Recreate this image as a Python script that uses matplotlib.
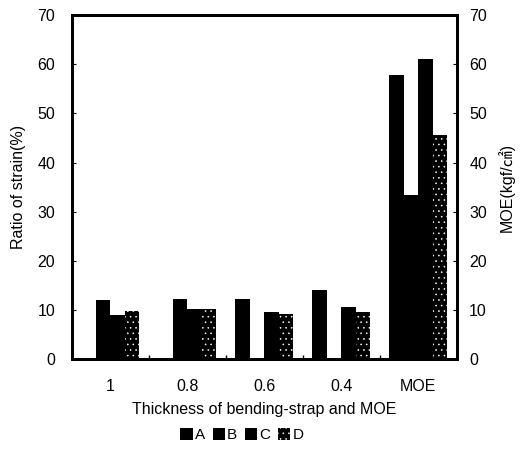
import numpy as np
import matplotlib
matplotlib.use("Agg")
import matplotlib.pyplot as plt

plt.rcParams['font.family'] = ['Liberation Sans', 'Noto Sans CJK JP', 'DejaVu Sans']
plt.rcParams['hatch.color'] = 'white'
plt.rcParams['hatch.linewidth'] = 0.4

# Data
categories = ["1", "0.8", "0.6", "0.4", "MOE"]
series = ["A", "B", "C", "D"]
strain = {
    "A": [0, 0, 12.2, 14.1],
    "B": [12.0, 12.2, 0, 0],
    "C": [9.0, 10.2, 9.7, 10.6],
    "D": [9.8, 10.2, 9.2, 9.5],
}
moe = {"A": 57.8, "B": 33.3, "C": 61.0, "D": 45.7}
yticks = [0, 10, 20, 30, 40, 50, 60, 70]

fig = plt.figure(figsize=(5.25, 4.57), dpi=100)
ax = fig.add_axes([0.137, 0.214, 0.733, 0.753])
ax2 = ax.twinx()

x = np.arange(len(categories))
w = 0.188
for i, s in enumerate(series):
    off = (i - 1.5) * w
    kw = dict(color='black', linewidth=0)
    if s == "D":
        kw['hatch'] = '...'
    ax.bar(x[:4] + off, strain[s], w, label=s, **kw)
    ax2.bar(x[4] + off, moe[s], w, **kw)

for a in (ax, ax2):
    a.set_ylim(0, 70)
    a.set_yticks(yticks)
    a.set_xlim(-0.5, len(categories) - 0.5)

ax.set_xticks(x)
ax.set_xticklabels(categories)
ax.set_xticks(np.arange(len(categories) + 1) - 0.5, minor=True)
ax.tick_params(axis='x', which='major', length=0, pad=14, labelsize=11.5)
ax.tick_params(axis='x', which='minor', direction='in', length=3, width=1)
ax.tick_params(axis='y', direction='in', length=3, pad=12, labelsize=11.5)
ax2.tick_params(axis='y', direction='in', length=3, pad=9, labelsize=11.5)

for a in (ax, ax2):
    for sp in a.spines.values():
        sp.set_linewidth(2)

ax.set_ylabel("Ratio of strain(%)", fontsize=11.5, labelpad=8)
ax2.set_ylabel("MOE(kgf/㎠)", fontsize=11.5, labelpad=8)
ax.set_xlabel("Thickness of bending-strap and MOE", fontsize=11.5, labelpad=6)

fig.legend(loc='center', bbox_to_anchor=(242 / 525, 1 - 435 / 457), ncol=4,
           frameon=False, fontsize=11, handlelength=0.8, handleheight=0.8,
           handletextpad=0.15, columnspacing=0.5)

fig.savefig("out.png", dpi=100)
